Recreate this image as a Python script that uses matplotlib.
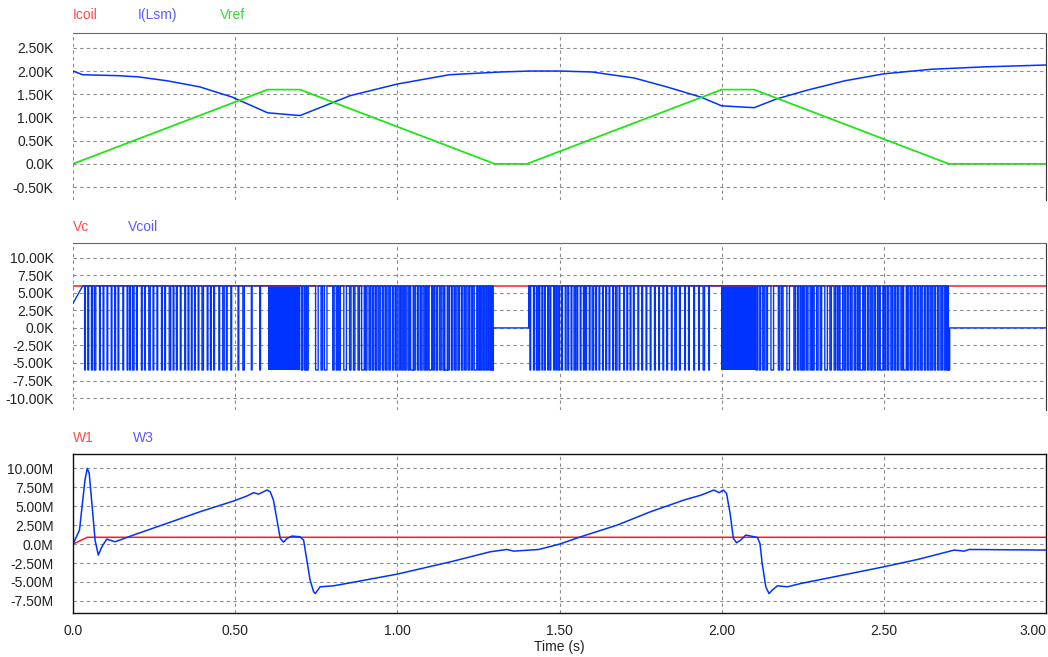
import numpy as np
import matplotlib
matplotlib.use("Agg")
import matplotlib.pyplot as plt

plt.rcParams['font.family'] = ['Liberation Sans', 'DejaVu Sans']

# ---- courant (K) ----
t_ilsm = [0.0, 0.03, 0.14, 0.20, 0.29, 0.39, 0.49, 0.60, 0.70, 0.855, 1.00, 1.16,
          1.32, 1.41, 1.50, 1.60, 1.73, 1.83, 1.935, 2.00, 2.10, 2.17, 2.265, 2.38,
          2.50, 2.65, 2.81, 3.00]
i_lsm = [2.00, 1.92, 1.90, 1.875, 1.79, 1.66, 1.44, 1.10, 1.04, 1.47, 1.72, 1.92,
         1.98, 2.00, 2.00, 1.98, 1.85, 1.66, 1.44, 1.25, 1.21, 1.40, 1.59, 1.79,
         1.94, 2.04, 2.09, 2.13]
t_vref = [0.0, 0.60, 0.70, 1.30, 1.40, 2.00, 2.10, 2.70, 3.00]
vref = [0.0, 1.60, 1.60, 0.0, 0.0, 1.60, 1.60, 0.0, 0.0]
icoil = [0.0, 1.60, 1.60, 0.0, 0.0, 1.60, 1.60, 0.0, 0.0]

# ---- tension (K) ----
vc_level = 6.0
vcoil_hi, vcoil_lo = 6.0, -6.0
vcoil_start = [3.5, 6.0]          # valeur à t=0 et à t=0.03
t_vcoil_start = [0.0, 0.03]

pulses_1 = [0.037, 0.047, 0.058, 0.068, 0.083, 0.094, 0.106, 0.119, 0.130, 0.140,
            0.155, 0.168, 0.176, 0.186, 0.197, 0.212, 0.222, 0.236, 0.248, 0.260,
            0.274, 0.284, 0.299, 0.310, 0.320, 0.332, 0.346, 0.356, 0.366, 0.376,
            0.387, 0.400, 0.415, 0.425, 0.435, 0.451, 0.464, 0.474, 0.488, 0.510,
            0.526, 0.551, 0.577]
wide_1 = [0.068, 0.186, 0.236, 0.299, 0.400, 0.464, 0.526]

pulses_a = [0.706, 0.716, 0.723, 0.752, 0.767, 0.779, 0.803, 0.814, 0.822, 0.839,
            0.855, 0.867, 0.881, 0.894, 0.904, 0.915, 0.925, 0.935, 0.945, 0.956,
            0.966, 0.976, 0.987, 0.997, 1.007, 1.016, 1.025, 1.035, 1.045, 1.053,
            1.064, 1.074, 1.084, 1.092, 1.102, 1.112, 1.122, 1.133, 1.143, 1.150,
            1.158, 1.169, 1.179, 1.189, 1.200, 1.210, 1.220, 1.230, 1.241, 1.251,
            1.259, 1.268, 1.277, 1.285, 1.292]
wide_a = [0.752, 0.779, 0.839, 0.894, 1.045, 1.102, 1.150, 1.241]

pulses_b = [1.410, 1.421, 1.431, 1.438, 1.447, 1.455, 1.465, 1.472, 1.483, 1.490,
            1.498, 1.508, 1.519, 1.527, 1.537, 1.547, 1.555, 1.565, 1.575, 1.582,
            1.593, 1.603, 1.613, 1.623, 1.634, 1.644, 1.654, 1.665, 1.675, 1.685,
            1.699, 1.709, 1.719, 1.729, 1.743, 1.755, 1.768, 1.781, 1.794, 1.807,
            1.820, 1.832, 1.846, 1.858, 1.871, 1.887, 1.899, 1.915, 1.930, 1.945,
            1.961]
wide_b = [1.431, 1.498, 1.547, 1.603, 1.675, 1.858, 1.945]

pulses_c = [2.108, 2.118, 2.129, 2.139, 2.156, 2.177, 2.187, 2.205, 2.225, 2.236,
            2.246, 2.254, 2.264, 2.275, 2.283, 2.295, 2.306, 2.322, 2.336, 2.349,
            2.359, 2.369, 2.380, 2.390, 2.400, 2.411, 2.421, 2.431, 2.441, 2.452,
            2.462, 2.472, 2.483, 2.493, 2.503, 2.513, 2.524, 2.534, 2.544, 2.555,
            2.565, 2.575, 2.585, 2.596, 2.606, 2.616, 2.627, 2.637, 2.647, 2.657,
            2.668, 2.678, 2.688, 2.696]
wide_c = [2.156, 2.205, 2.322, 2.369, 2.431, 2.493, 2.565]

# blocs de commutation très rapide (zone pleine)
block_start = [0.600, 1.997]
block_end = [0.701, 2.105]
# paliers à 0 (Vref nul)
zero_start = [1.296, 2.703]
zero_end = [1.405, 3.000]

# ---- puissance (M) ----
t_w1 = [0.0, 0.044, 3.0]
w1 = [0.0, 0.90, 0.90]
t_w3 = [0.0, 0.02, 0.037, 0.044, 0.050, 0.061, 0.068, 0.078, 0.089, 0.104, 0.130,
        0.186, 0.289, 0.392, 0.495, 0.536, 0.557, 0.572, 0.598, 0.608, 0.618, 0.629,
        0.639, 0.649, 0.660, 0.675, 0.700, 0.711, 0.721, 0.731, 0.742, 0.747, 0.762,
        0.803, 0.855, 0.999, 1.164, 1.287, 1.338, 1.359, 1.436, 1.500, 1.575, 1.678,
        1.781, 1.884, 1.935, 1.956, 1.976, 1.992, 2.005, 2.015, 2.026, 2.036, 2.046,
        2.059, 2.074, 2.090, 2.110, 2.118, 2.125, 2.136, 2.146, 2.156, 2.172, 2.203,
        2.244, 2.347, 2.500, 2.604, 2.717, 2.748, 2.763, 3.000]
w3 = [0.0, 1.85, 8.5, 10.0, 9.35, 4.06, 0.53, -1.45, -0.35, 0.66, 0.31,
      1.19, 2.73, 4.28, 5.69, 6.35, 6.79, 6.60, 7.14, 6.92, 5.82, 3.17,
      0.75, 0.26, 0.75, 1.06, 0.97, 0.53, -2.12, -4.76, -6.30, -6.53, -5.64,
      -5.51, -5.11, -3.97, -2.34, -1.01, -0.71, -0.93, -0.71, 0.0, 1.10, 2.51,
      4.28, 5.82, 6.45, 6.79, 7.14, 6.79, 7.14, 6.70, 4.06, 0.75, 0.18,
      0.53, 1.19, 1.06, 0.88, 0.09, -2.56, -5.64, -6.53, -6.08, -5.51, -5.64,
      -5.20, -4.32, -3.00, -2.03, -0.79, -0.93, -0.71, -0.79]

BLUE = '#0033ff'
RED = '#ff1a1a'
GREEN = '#10f010'


def build_vcoil():
    """Construit la forme d'onde en créneaux de Vcoil à partir des impulsions."""
    ts = list(t_vcoil_start)
    vs = list(vcoil_start)

    def pulses(times, wide, w_narrow, w_wide):
        for tc in times:
            w = w_wide if tc in wide else w_narrow
            ts.extend([tc - w / 2, tc - w / 2, tc + w / 2, tc + w / 2])
            vs.extend([vcoil_hi, vcoil_lo, vcoil_lo, vcoil_hi])

    pulses(pulses_1, wide_1, 0.0022, 0.0045)
    ts.extend([block_start[0], block_end[0]])
    vs.extend([vcoil_hi, vcoil_hi])
    pulses(pulses_a, wide_a, 0.0045, 0.008)
    ts.extend([zero_start[0] - 0.002, zero_start[0] - 0.002, zero_start[0], zero_start[0],
               zero_end[0], zero_end[0]])
    vs.extend([vcoil_hi, vcoil_lo, vcoil_lo, 0.0, 0.0, vcoil_hi])
    pulses(pulses_b, wide_b, 0.0022, 0.0045)
    ts.extend([block_start[1], block_end[1]])
    vs.extend([vcoil_hi, vcoil_hi])
    pulses(pulses_c, wide_c, 0.0045, 0.008)
    ts.extend([zero_start[1] - 0.004, zero_start[1] - 0.004, zero_start[1], zero_start[1],
               zero_end[1]])
    vs.extend([vcoil_hi, vcoil_lo, vcoil_lo, 0.0, 0.0])
    return ts, vs


fig = plt.figure(figsize=(10.48, 6.57), dpi=100)
W, H = 1048.0, 657.0


def make_ax(top_px, bot_px):
    ax = fig.add_axes([73 / W, 1 - bot_px / H, 973 / W, (bot_px - top_px) / H])
    ax.set_xlim(0, 3.0)
    ax.grid(True, color='#8a8a8a', linestyle=(0, (3, 3)), linewidth=0.8)
    ax.set_axisbelow(True)
    ax.tick_params(length=0, labelsize=10, colors='#222222', pad=14)
    ax.set_xticks([0, 0.5, 1.0, 1.5, 2.0, 2.5, 3.0])
    return ax


def fmt(vals, unit):
    return ['0.0' + unit if v == 0 else f'{v:.2f}{unit}' for v in vals]


# ---- panneau 1 ----
ax1 = make_ax(33, 200)
ax1.plot(t_ilsm, i_lsm, color=BLUE, lw=1.1)
ax1.plot(t_vref, icoil, color=RED, lw=0.6)
ax1.plot(t_vref, vref, color=GREEN, lw=1.2)
ax1.set_ylim(-0.78, 2.82)
yt = [-0.5, 0.0, 0.5, 1.0, 1.5, 2.0, 2.5]
ax1.set_yticks(yt)
ax1.set_yticklabels(fmt(yt, 'K'))
ax1.set_xticklabels([])

# ---- panneau 2 ----
ax2 = make_ax(243, 410)
ax2.plot([0, 3.0], [vc_level, vc_level], color=RED, lw=1.1)
tv, vv = build_vcoil()
ax2.plot(tv, vv, color=BLUE, lw=1.0)
for s, e in zip(block_start, block_end):
    ax2.fill_between([s, e], vcoil_lo, vcoil_hi, color=BLUE, lw=0)
ax2.set_ylim(-11.7, 12.1)
yt = [-10, -7.5, -5, -2.5, 0, 2.5, 5, 7.5, 10]
ax2.set_yticks(yt)
ax2.set_yticklabels(fmt(yt, 'K'))
ax2.set_xticklabels([])

# ---- panneau 3 ----
ax3 = make_ax(454, 613)
ax3.plot(t_w1, w1, color=RED, lw=1.1)
ax3.plot(t_w3, w3, color=BLUE, lw=1.1)
ax3.set_ylim(-9.1, 11.9)
yt = [-7.5, -5, -2.5, 0, 2.5, 5, 7.5, 10]
ax3.set_yticks(yt)
ax3.set_yticklabels(fmt(yt, 'M'))
ax3.set_xticklabels(['0.0', '0.50', '1.00', '1.50', '2.00', '2.50', '3.00'])
ax3.tick_params(axis='x', pad=8)
ax3.get_xticklabels()[-1].set_horizontalalignment('right')
ax3.set_xlabel('Time (s)', fontsize=10, color='#222222', labelpad=1)

for ax in (ax1, ax2):
    ax.spines['left'].set_visible(False)
    ax.spines['bottom'].set_visible(False)
    ax.spines['top'].set_color('#666666')
    ax.spines['right'].set_color('#333333')
for sp in ax3.spines.values():
    sp.set_color('#111111')
    sp.set_linewidth(1.0)

# noms des traces au-dessus de chaque panneau
labels = [
    (15, [('Icoil', 73, '#ff4a4a'), ('I(Lsm)', 138, '#5a5aff'), ('Vref', 220, '#3ad83a')]),
    (227, [('Vc', 73, '#ff4a4a'), ('Vcoil', 128, '#5a5aff')]),
    (438, [('W1', 73, '#ff4a4a'), ('W3', 133, '#5a5aff')]),
]
for y, items in labels:
    for txt, x, c in items:
        fig.text(x / W, 1 - y / H, txt, color=c, fontsize=10, va='center', ha='left')

fig.savefig('out.png', dpi=100)
